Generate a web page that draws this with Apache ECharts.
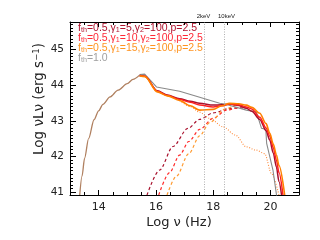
<!DOCTYPE html>
<html>
<head>
<meta charset="utf-8">
<script src="https://cdn.jsdelivr.net/npm/echarts@6/dist/echarts.min.js"></script>
<style>html,body{margin:0;padding:0;background:#fff}#c{width:320px;height:240px}</style>
</head>
<body>
<div id="c"></div>
<script>
// ---- data (log nu [Hz], log nuLnu [erg/s]) ----
var diskX = [13.34, 13.42, 13.51, 13.65, 13.84, 14.0, 14.15, 14.4, 14.68, 15.0, 15.2, 15.43];
var diskY = [40.92, 41.45, 41.95, 42.5, 43.03, 43.28, 43.46, 43.67, 43.86, 44.04, 44.16, 44.28];

var grayX = [15.43, 15.61, 16.02, 16.83, 18.23, 18.41, 19.16, 19.51, 19.69, 19.84, 19.87, 20.09, 20.22];
var grayY = [44.30, 44.31, 43.95, 43.83, 43.49, 43.47, 43.30, 43.25, 42.79, 42.76, 42.37, 41.62, 40.89];

var darkredX = [15.43, 15.62, 16.05, 16.4, 16.83, 17.2, 17.53, 18.0, 18.3, 18.58, 18.9, 19.16, 19.35, 19.63, 19.85, 19.98, 20.1, 20.21, 20.3, 20.39];
var darkredY = [44.27, 44.25, 43.84, 43.72, 43.62, 43.55, 43.49, 43.44, 43.45, 43.47, 43.43, 43.35, 43.27, 43.04, 42.72, 42.46, 42.10, 41.71, 41.30, 40.92];
var redX = [15.43, 15.62, 16.05, 16.4, 16.83, 17.2, 17.53, 18.0, 18.3, 18.58, 18.9, 19.16, 19.35, 19.63, 19.85, 19.98, 20.1, 20.21, 20.3, 20.44];
var redY = [44.27, 44.25, 43.83, 43.71, 43.60, 43.52, 43.44, 43.39, 43.42, 43.47, 43.45, 43.39, 43.33, 43.10, 42.80, 42.57, 42.25, 41.90, 41.55, 40.92];
var orangeX = [15.43, 15.62, 16.05, 16.4, 16.83, 17.2, 17.53, 18.0, 18.3, 18.58, 18.9, 19.16, 19.35, 19.63, 19.85, 19.98, 20.1, 20.21, 20.3, 20.5];
var orangeY = [44.26, 44.24, 43.81, 43.70, 43.57, 43.42, 43.30, 43.32, 43.42, 43.49, 43.48, 43.44, 43.38, 43.21, 42.92, 42.65, 42.35, 42.05, 41.75, 40.92];

var darkredDashX = [15.69, 16.13, 16.6, 17.12, 17.53, 18.0, 18.58, 19.16];
var darkredDashY = [40.92, 41.62, 42.28, 42.79, 43.04, 43.22, 43.35, 43.37];
var redDashX = [16.1, 16.48, 16.83, 17.15, 17.53, 18.0, 18.47, 19.03];
var redDashY = [40.92, 41.55, 42.04, 42.42, 42.76, 43.07, 43.30, 43.43];
var orangeDashX = [16.39, 16.72, 17.15, 17.53, 17.88, 18.41, 18.81];
var orangeDashY = [40.92, 41.45, 42.08, 42.58, 42.95, 43.33, 43.46];

var orangeDotX = [16.83, 17.2, 17.53, 17.88, 18.35, 18.78, 19.16, 19.5, 19.8, 20.04, 20.3];
var orangeDotY = [43.57, 43.40, 43.24, 43.07, 42.83, 42.60, 42.27, 42.18, 42.08, 41.52, 40.92];

var keVLines = [17.68, 18.38];
var keVLabels = ['2keV', '10keV'];
var xTicks = [14, 16, 18, 20];
var yTicks = [41, 42, 43, 44, 45];

var legendLines = [
  {g1: '5', color: '#b0142e'},
  {g1: '10', color: '#ff2a36'},
  {g1: '15', color: '#ff9422'}
];

// ---- helpers ----
function pairs(xs, ys) { return xs.map(function (x, i) { return [x, ys[i]]; }); }
var XMIN = 13, XMAX = 21, YMIN = 40.92, YMAX = 45.77;
var xMinor = [], yMinor = [];
for (var i = 0; i <= 16; i++) { var v = XMIN + i * 0.5; if (xTicks.indexOf(v) < 0) xMinor.push(v); }
for (var j = 410; j <= 457; j++) { var w = j / 10; if (j % 10 !== 0) yMinor.push(w); }

var FONT = 'DejaVu Sans';
var LFONT = 'Liberation Sans';
function xAx(pos, ticks, len, showLine, showLabel) {
  return {
    type: 'value', min: XMIN, max: XMAX, position: pos,
    axisLine: {show: showLine, onZero: false, lineStyle: {color: '#000', width: 1}},
    axisTick: {show: true, inside: true, length: len, customValues: ticks, lineStyle: {color: '#000', width: 1}},
    axisLabel: showLabel ? {customValues: ticks, margin: 7, fontSize: 11, color: '#222', fontFamily: FONT} : {show: false},
    splitLine: {show: false}
  };
}
function yAx(pos, ticks, len, showLine, showLabel) {
  return {
    type: 'value', min: YMIN, max: YMAX, position: pos,
    axisLine: {show: showLine, onZero: false, lineStyle: {color: '#000', width: 1}},
    axisTick: {show: true, inside: true, length: len, customValues: ticks, lineStyle: {color: '#000', width: 1}},
    axisLabel: showLabel ? {customValues: ticks, margin: 6, fontSize: 10.5, color: '#222', fontFamily: FONT} : {show: false},
    splitLine: {show: false}
  };
}
function lineSeries(xs, ys, color, width, type, smooth) {
  return {
    type: 'line', data: pairs(xs, ys), showSymbol: false, symbol: 'none', smooth: smooth,
    smoothMonotone: 'x', clip: true, silent: true, animation: false,
    lineStyle: {color: color, width: width, type: type}
  };
}

function richFor(color) {
  return {
    n: {fontSize: 10.5, fill: color, fontFamily: LFONT, lineHeight: 11},
    s: {fontSize: 7.2, fill: color, fontFamily: LFONT, verticalAlign: 'bottom', lineHeight: 5}
  };
}
var legendY = [28, 38.3, 48.5, 58];
var legendTexts = legendLines.map(function (l, k) {
  return {
    type: 'text', x: 78, y: legendY[k],
    style: {
      text: '{n|f}{s|th}{n|=0.5,γ}{s|1}{n|=' + l.g1 + ',γ}{s|2}{n|=100,p=2.5}',
      verticalAlign: 'middle', align: 'left',
      rich: richFor(l.color)
    }
  };
});
legendTexts.push({
  type: 'text', x: 78, y: legendY[3],
  style: {text: '{n|f}{s|th}{n|=1.0}', verticalAlign: 'middle', align: 'left', rich: richFor('#a0a0a0')}
});

var chart = echarts.init(document.getElementById('c'), null, {renderer: 'canvas'});
var keVSeries = lineSeries([], [], '#999', 1, 'solid', false);
keVSeries.markLine = {
  symbol: 'none', silent: true, animation: false, label: {show: false},
  lineStyle: {type: [1, 1.5], color: '#9a9a9a', width: 0.8},
  data: keVLines.map(function (v) { return {xAxis: v}; })
};

chart.setOption({
  animation: false,
  backgroundColor: '#fff',
  grid: {left: 70, right: 21, top: 22, bottom: 45, containLabel: false},
  xAxis: [
    xAx('bottom', xTicks, 5, true, true),
    xAx('top', xTicks, 5, true, false),
    xAx('bottom', xMinor, 3, false, false),
    xAx('top', xMinor, 3, false, false)
  ],
  yAxis: [
    yAx('left', yTicks, 6, true, true),
    yAx('right', yTicks, 6, true, false),
    yAx('left', yMinor, 3, false, false),
    yAx('right', yMinor, 3, false, false)
  ],
  series: [
    keVSeries,
    lineSeries(darkredDashX, darkredDashY, '#a8102c', 1.2, [3, 2.5], 0.3),
    lineSeries(redDashX, redDashY, '#ff2a2a', 1.2, [3, 2.5], 0.3),
    lineSeries(orangeDashX, orangeDashY, '#ff9a30', 1.2, [3, 2.5], 0.3),
    lineSeries(orangeDotX, orangeDotY, '#ff8a3a', 1.1, [1, 1.6], 0.3),
    lineSeries(grayX, grayY, '#8a8a8a', 1.1, 'solid', false),
    lineSeries(darkredX, darkredY, '#a8102c', 1.5, 'solid', 0.3),
    lineSeries(redX, redY, '#ff2020', 1.5, 'solid', 0.3),
    lineSeries(orangeX, orangeY, '#ff8000', 1.6, 'solid', 0.3),
    lineSeries(diskX, diskY, '#b08060', 1.3, 'solid', 0.3)
  ],
  graphic: legendTexts.concat([
    {type: 'text', x: 39, y: 99, rotation: Math.PI / 2,
      style: {text: 'Log νLν (erg s{p|−1})', align: 'center', verticalAlign: 'middle',
        rich: {p: {fontSize: 8.5, fill: '#222', fontFamily: FONT, verticalAlign: 'top', lineHeight: 8}},
        fontSize: 13.5, fill: '#222', fontFamily: FONT}},
    {type: 'text', x: 179, y: 223,
      style: {text: 'Log ν (Hz)', align: 'center', verticalAlign: 'middle', fontSize: 13, fill: '#222', fontFamily: FONT}},
    {type: 'text', x: 203.5, y: 16,
      style: {text: keVLabels[0], align: 'center', verticalAlign: 'middle', fontSize: 6, fill: '#222', fontFamily: LFONT}},
    {type: 'text', x: 226.5, y: 16,
      style: {text: keVLabels[1], align: 'center', verticalAlign: 'middle', fontSize: 6, fill: '#222', fontFamily: LFONT}}
  ])
});
</script>
</body>
</html>
